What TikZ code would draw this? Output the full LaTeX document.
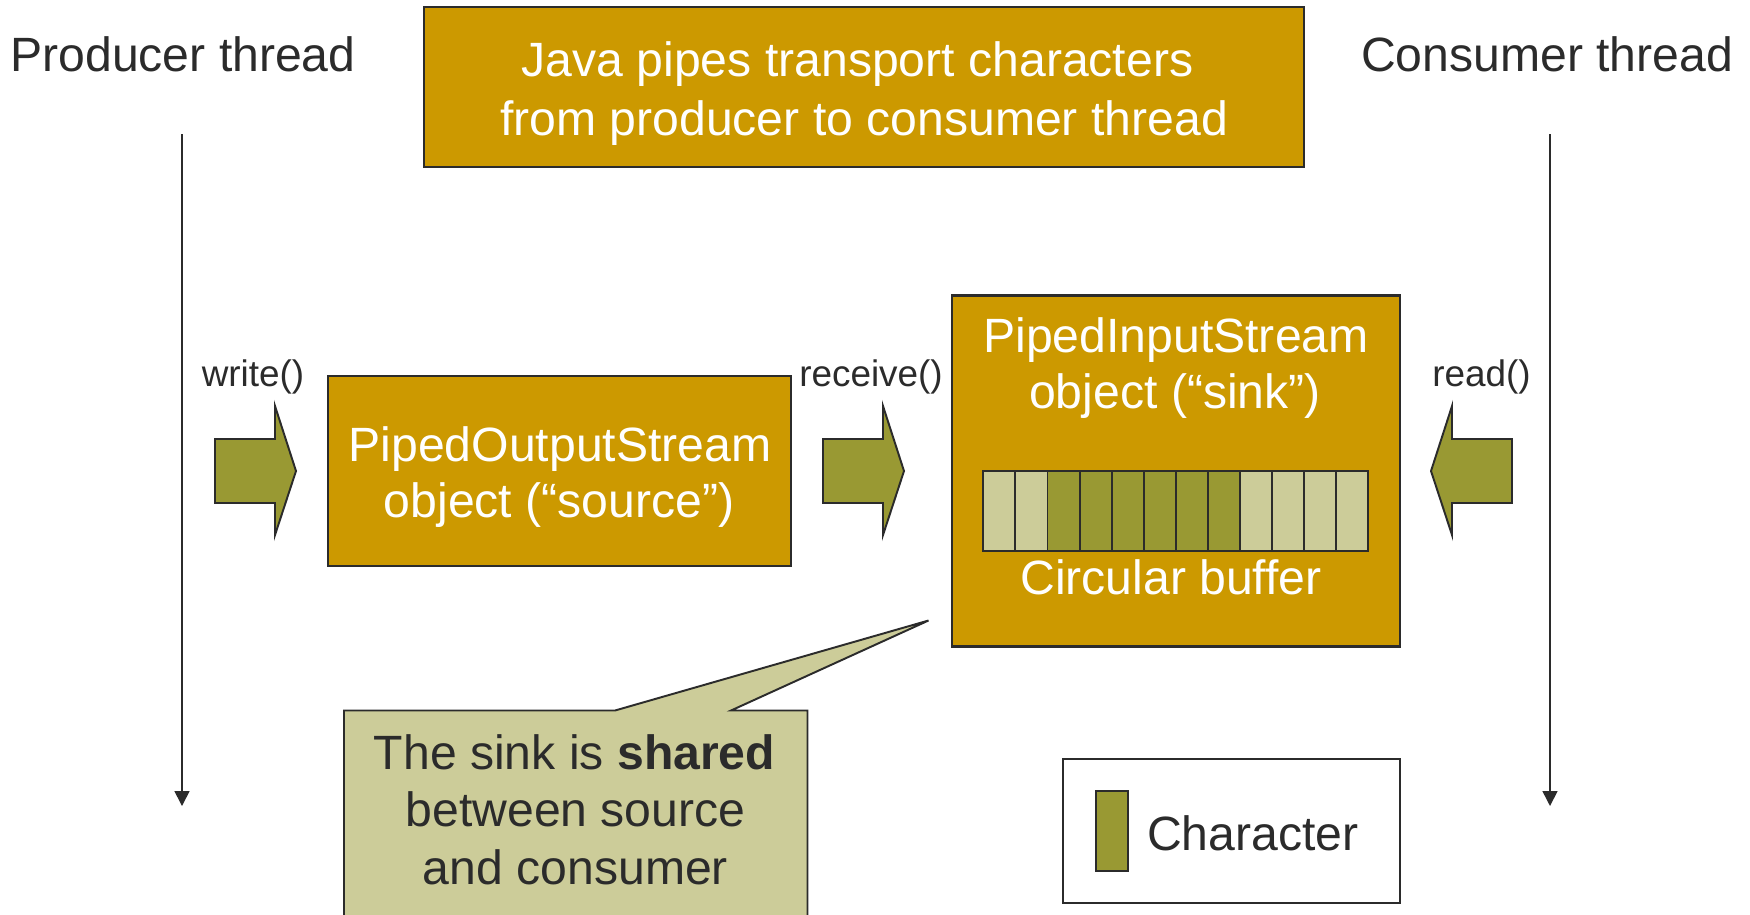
\documentclass[tikz,border=0pt]{standalone}
\usepackage{fontspec}
\setmainfont{Liberation Sans}
\usetikzlibrary{arrows.meta}
\definecolor{gold}{RGB}{204,153,0}
\definecolor{olive}{RGB}{153,153,51}
\definecolor{khaki}{RGB}{204,204,153}
\definecolor{ink}{RGB}{43,43,43}

\begin{document}
\begin{tikzpicture}[x=0.02cm,y=-0.02cm,
  every node/.style={inner sep=0pt,outer sep=0pt},
  big/.style={font=\fontsize{27.4}{32}\selectfont,anchor=base},
  small/.style={font=\fontsize{21}{24}\selectfont,anchor=base,text=ink},
  onbox/.style={big,text=white},
  dark/.style={big,text=ink},
  goldbox/.style={draw=ink,line width=1.2pt,fill=gold,rectangle},
  thread/.style={draw=ink,line width=0.9pt,-{Triangle[width=8.5pt,length=8.5pt]}},
  cell/.style={draw=ink,line width=1.1pt},
  blockarrow/.pic={
    \draw[draw=ink,line width=1.1pt,fill=olive,line join=miter]
      (0,-32) -- (60,-32) -- (60,-65) -- (81,0) -- (60,64) -- (60,32) -- (0,32) -- cycle;
  }
]
\useasboundingbox (0,0) rectangle (1750,914);
\clip (0,0) rectangle (1750,914);
\fill[white] (0,0) rectangle (1750,914);

% Heading box
\node[goldbox,minimum width=17.6cm,minimum height=3.2cm] (title) at (864,87) {};
\node[onbox] (title1) at (857.5,76) {Java pipes transport characters};
\node[onbox] (title2) at (864,135) {from producer to consumer thread};

% Threads
\node[dark] (prod) at (183,71) {Producer thread};
\node[dark] (cons) at (1547,71) {Consumer thread};
\coordinate (prodtop) at (182,134);
\coordinate (prodend) at (182,806);
\coordinate (constop) at (1550,134);
\coordinate (consend) at (1550,806);
\draw[thread] (prodtop) -- (prodend);
\draw[thread] (constop) -- (consend);

% Source object
\node[goldbox,minimum width=9.26cm,minimum height=3.8cm] (source) at (559.5,471) {};
\node[onbox] (source1) at (560,461) {PipedOutputStream};
\node[onbox] (source2) at (559,517) {object (“source”)};

% Sink object with its circular buffer
\node[goldbox,minimum width=8.97cm,minimum height=7.02cm] (sink) at (1175.75,471) {};
\node[onbox] (sink1) at (1176,352.7) {PipedInputStream};
\node[onbox] (sink2) at (1175,408) {object (“sink”)};
\foreach \i/\c in {0/khaki,1/khaki,2/olive,3/olive,4/olive,5/olive,6/olive,7/olive,8/khaki,9/khaki,10/khaki,11/khaki}
  \draw[cell,fill=\c] ({983.3+\i*32.083},470.7) rectangle ++(32.083,80.3);
\node[onbox] (buflabel) at (1171,594) {Circular buffer};

% Method calls
\node[small] (write) at (253,386) {write()};
\node[small] (receive) at (871,386) {receive()};
\node[small] (read) at (1481.5,386) {read()};
\pic at (215,471) {blockarrow};
\pic at (823,471) {blockarrow};
\pic[xscale=-1] at (1512,471) {blockarrow};

% Callout pointing at the sink
\draw[draw=ink,line width=1.1pt,fill=khaki,line join=miter]
  (344,930) -- (344,710.5) -- (615,710.5) -- (928.5,620.5) -- (731,710.5)
  -- (807.5,710.5) -- (807.5,930);
\node[dark] (note1) at (574.5,769) {The sink is \textbf{shared}};
\node[dark] (note2) at (575.5,826.5) {between source};
\node[dark] (note3) at (575.5,884) {and consumer};

% Legend
\node[draw=ink,line width=1.2pt,fill=white,minimum width=6.734cm,minimum height=2.874cm] (legend) at (1231.6,830.8) {};
\node[draw=ink,line width=1.1pt,fill=olive,minimum width=0.652cm,minimum height=1.606cm] (swatch) at (1112,830.8) {};
\node[dark,anchor=base west] (legendtext) at (1147,850.7) {Character};
\end{tikzpicture}
\end{document}
